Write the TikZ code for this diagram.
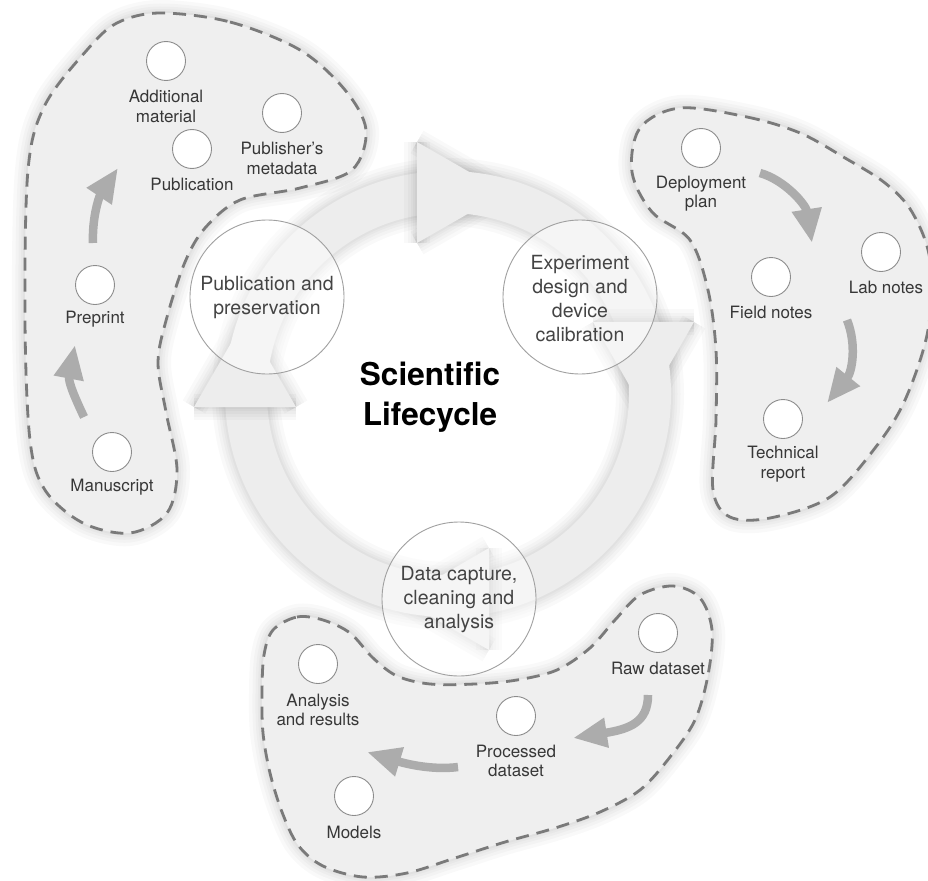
\documentclass[tikz,border=0pt]{standalone}
\usepackage{fontspec}
\setmainfont{TeX Gyre Heros}
\usetikzlibrary{arrows.meta}
\definecolor{ringfill}{RGB}{237,237,237}
\definecolor{blobfill}{RGB}{239,239,239}
\definecolor{dashcol}{RGB}{122,122,122}
\definecolor{arrowcol}{RGB}{172,172,172}
\definecolor{labelcol}{RGB}{55,55,55}
\definecolor{stagecol}{RGB}{68,68,68}
\definecolor{circlecol}{RGB}{140,140,140}
\definecolor{stagering}{RGB}{160,160,160}
\begin{document}
\begin{tikzpicture}[x=1pt,y=-1pt,
  glow/.style={
    preaction={draw=black,draw opacity=0.025,line width=26pt,line join=round},
    preaction={draw=black,draw opacity=0.025,line width=19pt,line join=round},
    preaction={draw=black,draw opacity=0.025,line width=13pt,line join=round},
    preaction={draw=black,draw opacity=0.025,line width=8pt,line join=round},
    preaction={draw=black,draw opacity=0.025,line width=4pt,line join=round}},
  blobedge/.style={draw=dashcol,line width=2.8pt,dash pattern=on 13pt off 8pt},
  item/.style={circle,draw=circlecol,line width=0.9pt,fill=white,minimum size=39pt,inner sep=0pt},
  lbl/.style={text=labelcol,font=\fontsize{17}{19.5}\selectfont,align=center,inner sep=0pt},
  stage/.style={circle,draw=stagering,line width=0.9pt,fill=white,fill opacity=0.45,minimum size=154pt,inner sep=0pt},
  stagetext/.style={text=stagecol,font=\fontsize{19.5}{24}\selectfont,align=center,inner sep=0pt},
  flow/.style={draw=arrowcol,line width=8.5pt,-{Triangle[length=34pt,width=28pt]}},
  ]
\fill[white] (0,0) rectangle (928,880);
\useasboundingbox (0,0) rectangle (928,880);

% ---------- blobs ----------
\path[glow,fill=blobfill,postaction={blobedge}] plot[smooth cycle,tension=0.55] coordinates {
 (160,13) (230,22) (300,50) (345,90) (366,130) (352,170) (300,188) (240,200) (205,228)
 (185,262) (167,317) (158,362) (166,412) (177,470) (167,513) (130,533) (83,523) (45,490)
 (30,440) (25,320) (28,170) (45,105) (87,50) (117,23)};
\path[glow,fill=blobfill,postaction={blobedge}] plot[smooth cycle,tension=0.55] coordinates {
 (680,108) (747,117) (800,133) (845,158) (885,183) (912,212) (930,260) (928,330) (905,400)
 (875,448) (830,497) (770,518) (730,517) (713,490) (716,420) (716,350) (708,290) (690,240)
 (652,212) (632,172) (640,128)};
\path[glow,fill=blobfill,postaction={blobedge}] plot[smooth cycle,tension=0.55] coordinates {
 (273,630) (297,617) (323,620) (350,633) (373,658) (397,676) (430,684) (475,684) (517,680)
 (557,670) (590,648) (615,620) (640,595) (673,586) (700,598) (712,630) (708,675) (695,720)
 (670,757) (640,790) (600,812) (555,828) (505,842) (455,858) (407,873) (363,877) (323,866)
 (298,845) (282,812) (270,773) (263,733) (262,693) (264,655)};

% ---------- ring ----------
\coordinate (ringC) at (448,394);
\coordinate (tA) at (417,142); \coordinate (tB) at (417,243); \coordinate (tT) at (505,192.5);
\coordinate (rA) at (593,322); \coordinate (rB) at (694,322); \coordinate (rT) at (643.5,410);
\coordinate (bA) at (489,548); \coordinate (bB) at (489,650); \coordinate (bT) at (401,599);
\coordinate (lA) at (194,407); \coordinate (lB) at (296,407); \coordinate (lT) at (245,319);
\path[glow] (tA) -- (tT) -- (tB);
\path[glow] (rA) -- (rT) -- (rB);
\path[glow] (bA) -- (bT) -- (bB);
\path[glow] (lA) -- (lT) -- (lB);
\path[glow,fill=ringfill,even odd rule] (ringC) circle[radius=223pt] (ringC) circle[radius=181pt];
\path[glow] (tA) -- (tB); \fill[ringfill] (tA) -- (tT) -- (tB) -- cycle;
\path[glow] (rA) -- (rB); \fill[ringfill] (rA) -- (rT) -- (rB) -- cycle;
\path[glow] (bA) -- (bB); \fill[ringfill] (bA) -- (bT) -- (bB) -- cycle;
\path[glow] (lA) -- (lB); \fill[ringfill] (lA) -- (lT) -- (lB) -- cycle;

% ---------- stage circles ----------
\node[stage] (ppC) at (267,297) {};
\node[stagetext] (ppT) at (267,298) {Publication and\\preservation};
\node[stage] (edC) at (580,297) {};
\node[stagetext] (edT) at (580,299) {Experiment\\design and\\device\\calibration};
\node[stage] (dcC) at (459,599) {};
\node[stagetext] (dcT) at (459,600) {Data capture,\\cleaning and\\analysis};

\node[font=\bfseries\fontsize{31.5}{40}\selectfont,align=center,inner sep=0pt] (title) at (430,397) {Scientific\\Lifecycle};

% ---------- items: publication ----------
\node[item] (addC) at (166,61) {};
\node[lbl] (addL) at (166,106.5) {Additional\\material};
\node[item] (pubmC) at (282,113) {};
\node[lbl] (pubmL) at (282,158.5) {Publisher's\\metadata};
\node[item] (pubC) at (192,149) {};
\node[lbl] (pubL) at (192,184) {Publication};
\node[item] (preC) at (95,285) {};
\node[lbl] (preL) at (95,319) {Preprint};
\node[item] (manC) at (112,452) {};
\node[lbl] (manL) at (112,487) {Manuscript};

% ---------- items: experiment ----------
\node[item] (depC) at (701,148) {};
\node[lbl] (depL) at (701,193.5) {Deployment\\plan};
\node[item] (labC) at (881,252) {};
\node[lbl] (labL) at (886,287) {Lab notes};
\node[item] (fieldC) at (771,277) {};
\node[lbl] (fieldL) at (771,312) {Field notes};
\node[item] (techC) at (783,419) {};
\node[lbl] (techL) at (783,464) {Technical\\report};

% ---------- items: data ----------
\node[item] (rawC) at (658,633) {};
\node[lbl] (rawL) at (658,668) {Raw dataset};
\node[item] (procC) at (516,716) {};
\node[lbl] (procL) at (516,761) {Processed\\dataset};
\node[item] (anaC) at (318,664) {};
\node[lbl] (anaL) at (318,710) {Analysis\\and results};
\node[item] (modC) at (354,796) {};
\node[lbl] (modL) at (354,832) {Models};

% ---------- flow arrows ----------
\coordinate (a1s) at (84,417); \coordinate (a1e) at (75,345);
\draw[flow] (a1s) .. controls (76,400) and (68,382) .. (a1e);
\coordinate (a2s) at (93,243); \coordinate (a2e) at (118,168);
\draw[flow] (a2s) .. controls (92,215) and (100,195) .. (a2e);
\coordinate (a3s) at (760,173); \coordinate (a3e) at (812,243);
\draw[flow] (a3s) .. controls (785,180) and (806,205) .. (a3e);
\coordinate (a4s) at (847,320); \coordinate (a4e) at (827,403);
\draw[flow] (a4s) .. controls (857,345) and (852,372) .. (a4e);
\coordinate (a5s) at (648,695); \coordinate (a5e) at (573,738);
\draw[flow] (a5s) .. controls (648,722) and (630,729) .. (a5e);
\coordinate (a6s) at (458,767); \coordinate (a6e) at (367,752);
\draw[flow] (a6s) .. controls (435,770) and (410,765) .. (a6e);
\end{tikzpicture}
\end{document}
